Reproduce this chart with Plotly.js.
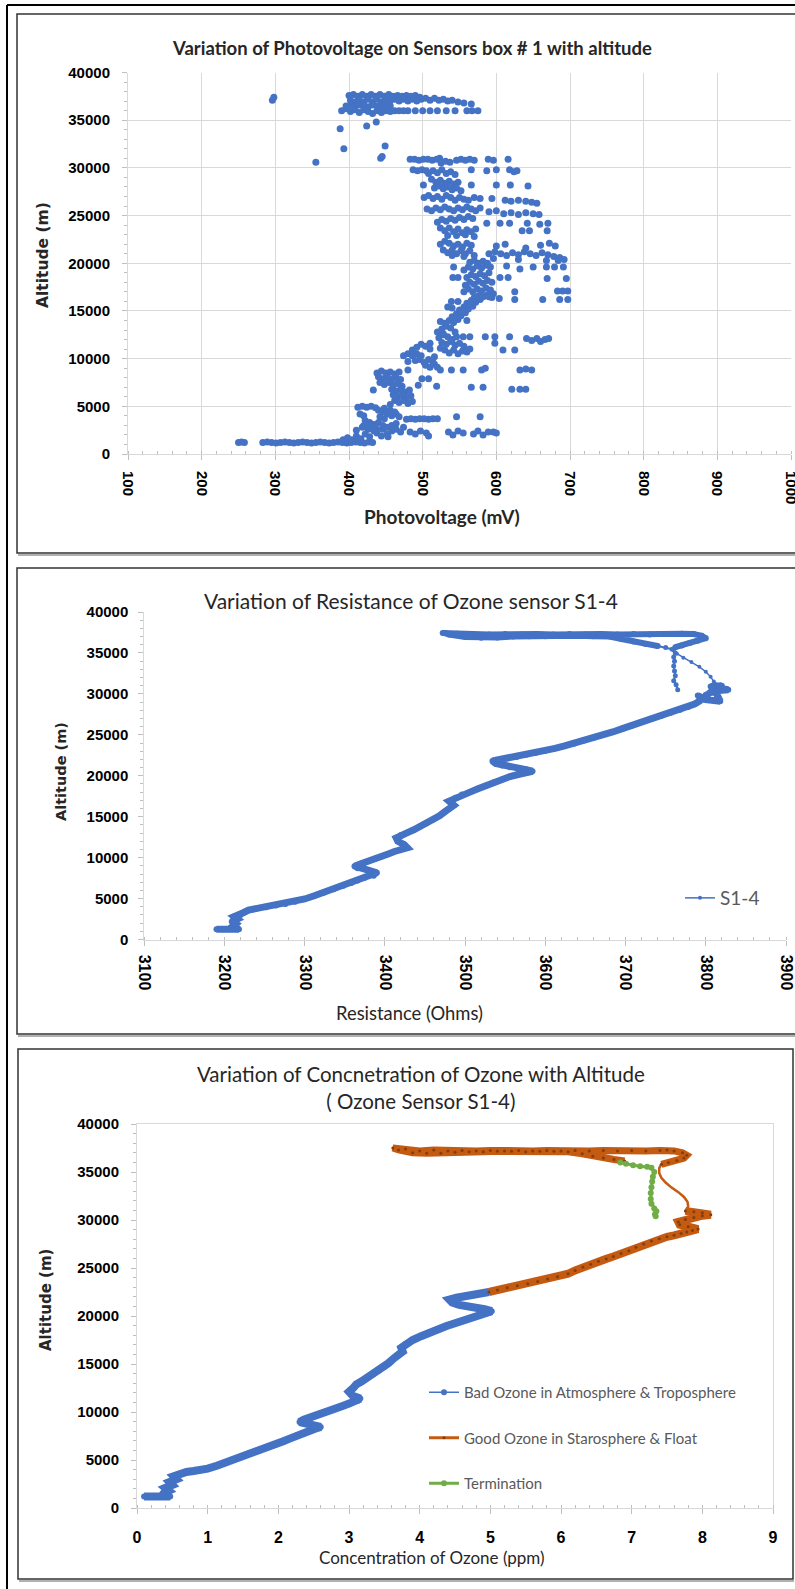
<!DOCTYPE html>
<html><head><meta charset="utf-8">
<script src="https://cdn.plot.ly/plotly-3.0.1.min.js"></script>
<style>html,body{margin:0;padding:0;background:#fff;}#chart{width:795px;height:1589px;}</style>
</head><body><div id="chart"></div>
<script>
// ---------- Panel 1: Photovoltage (mV) vs Altitude (m) ----------
const pvVoltage = [
 250,254,258,283,289,295,301,307,313,319,325,331,337,343,349,355,361,367,373,379,385,391,397,403,409,415,421,427,432,
 392,398,404,410,416,422,428,434,410,418,426,438,444,446,452,453,458,464,470,474,
 483,490,497,505,508,535,541,548,555,569,575,582,589,596,600,
 478,484,490,496,502,508,514,520,546,578,
 412,418,424,430,436,440,446,452,458,464,468,442,448,422,428,434,440,446,452,458,464,420,426,432,438,448,456,462,415,420,
 438,444,450,456,462,468,440,446,452,458,464,470,442,448,454,460,466,472,458,464,470,476,482,460,466,472,478,484,462,468,474,480,486,456,433,
 494,499,508,519,566,582,621,632,640,480,524,539,555,580,585,632,640,648,
 474,480,486,492,498,486,492,498,504,510,510,496,502,508,514,504,510,516,520,490,480,516,
 522,528,534,540,546,526,532,538,544,550,556,530,536,542,548,554,560,564,524,
 555,564,585,598,618,641,648,655,660,666,671,598,609,625,
 520,526,532,538,530,536,542,548,540,546,552,558,550,556,562,568,560,566,572,578,570,576,582,588,594,534,540,524,528,544,560,
 539,548,604,625,663,686,697,683,690,697,
 556,562,568,574,580,586,592,558,564,570,576,582,588,594,560,566,572,578,584,590,556,562,568,574,580,586,592,564,570,576,582,588,596,590,
 541,548,605,616,669,695,625,650,668,679,691,542,614,632,
 590,598,606,614,622,630,638,646,654,662,670,678,686,692,600,612,640,660,672,680,596,630,668,684,
 524,530,536,542,548,554,560,566,528,534,540,546,552,558,564,540,556,570,
 520,526,532,538,544,550,556,562,568,524,530,536,542,548,554,560,566,572,534,546,558,570,
 587,605,618,642,659,670,635,645,669,
 506,512,518,524,530,536,542,548,554,560,566,572,578,590,600,610,620,630,640,650,658,
 502,508,514,520,526,532,538,544,550,556,562,570,578,594,612,620,630,640,648,655,
 508,514,520,526,532,538,544,512,518,524,530,536,542,548,516,522,528,534,540,546,552,501,487,493,499,505,
 566,600,619,643,566,587,600,618,624,628,
 483,489,495,501,507,513,519,523,546,552,558,564,570,589,596,616,525,531,537,
 355,393,449,443,445,388,424,437,296,298,
 400,406,412,418,424,430,436,442,448,454,460,466,472,478,484,490,496,
 402,408,414,420,426,432,438,444,450,456,462,468,474,480,486,492,498,
 504,510,516,522,528,534,540,548,556,566,
 396,402,408,414,420,426,432,438,444,450,456,
 390,396,402,408,414,420,426,432,438,444,450,456,
 462,468,474,480,490,500,510,520,532,544,560,567,575
];
const pvAltitude = [
 1200,1250,1200,1200,1250,1200,1150,1200,1250,1200,1150,1200,1250,1200,1150,1200,1250,1200,1150,1200,1250,1200,1150,1200,1250,1200,1150,1250,1200,
 1500,1700,1500,1900,1600,2100,1800,2400,2500,2800,2600,2200,1900,2600,2100,1800,2400,2600,2300,2800,
 2300,2100,2400,2200,1900,2300,2000,2400,2200,2100,2400,2000,2300,2300,2200,
 3650,3700,3650,3700,3700,3650,3700,3700,3900,3900,
 4900,5000,4900,5000,4850,4600,4400,4200,4000,4200,3900,3900,3700,3500,3300,3100,3300,3000,2800,3000,3200,3000,2700,2900,2600,4800,4600,4400,4200,4000,
 8500,8700,8500,8600,8400,8600,8100,7900,8100,7800,8000,7800,7500,7300,7500,7200,7400,7100,6800,6600,6800,6500,6700,6200,6000,6200,5900,6100,5600,5400,5600,5300,5500,5200,6700,
 7200,7900,7900,7100,7000,7000,6800,6800,6800,8800,8800,8800,8800,8800,9000,8800,8900,8800,
 10300,10500,10300,10500,10300,10900,11200,11500,11300,11600,11000,9900,9600,9900,9600,9300,9100,9400,9100,9800,9700,10200,
 12200,12500,12300,12000,12300,11700,11500,11800,11400,11600,11300,10900,10600,10900,10500,10800,10700,11000,11100,
 12300,12300,12300,12300,12300,12100,11900,12100,11800,12000,12100,11600,10900,10900,
 12800,13100,13400,13200,13700,14000,13800,14100,14400,14700,14500,14800,15100,15400,15200,15500,15800,16100,15900,16200,16400,16600,16500,16700,16400,15400,15300,13900,12600,12800,14000,
 16000,16000,16300,16200,16200,16200,16200,17100,17100,17100,
 17000,17300,17000,17300,17100,17400,17200,17700,18000,17800,18100,17900,18200,18000,18500,18800,18600,18900,18700,19000,19300,19600,19400,19700,19500,19800,19600,20100,20300,20000,20200,20000,16800,16500,
 18500,18500,18500,18500,18400,18400,17000,19600,19600,19600,19600,19600,19700,19400,
 21000,21200,21000,20800,21100,20900,21200,21000,20800,21100,20900,20700,20600,20400,21800,22000,21600,21900,22100,21800,20500,20400,20300,20300,
 22000,22300,22100,21800,22000,21700,22100,21900,21400,21100,21400,21000,21300,21000,21300,20800,20700,20800,
 24300,24600,24400,24700,24500,24800,24600,24900,24700,23700,23400,23700,23300,23600,23200,23500,23300,23600,22900,22900,23000,22800,
 24200,24200,24200,24200,24100,24200,23400,23400,23400,
 25700,25500,25800,25600,25900,25700,25500,25800,25600,25900,25700,25500,25800,25400,25500,25200,25300,25100,25300,25200,25100,
 26900,27100,26800,27000,26700,27100,26900,26600,26900,26700,26600,26900,26800,26800,26600,26500,26600,26500,26400,26300,
 29400,29700,29500,29800,29400,29600,29300,28800,28500,28700,28400,28600,28300,28500,27900,28100,27800,28000,27700,27900,27600,28200,29800,29700,29800,29700,
 28200,28200,28200,28100,29800,29700,29800,29800,29600,29700,
 30900,30900,30800,30900,30900,30800,30900,31000,30800,30900,30800,30900,30800,30900,30800,30900,30500,30700,30600,
 30600,32000,32300,31000,31200,34100,34400,34800,37100,37400,
 37600,37700,37500,37700,37500,37700,37500,37700,37500,37700,37500,37600,37500,37600,37500,37600,37400,
 37100,36900,37200,36900,37200,36900,37200,36900,37200,37000,37200,37000,37200,37000,37200,37000,37200,
 37300,37100,37300,37100,37200,37000,37100,36900,36800,36700,
 36500,36600,36400,36600,36500,36400,36600,36500,36400,36600,36500,
 36000,36200,35900,36100,35800,36100,35900,35700,36000,35800,36000,35900,
 36000,36000,36000,36000,36000,36000,36000,36000,36000,36000,36000,36000,36000
];

// ---------- Panel 2: Resistance (Ohms) of sensor S1-4 vs Altitude ----------
const resAscOhms = [3190,3198,3206,3214,3218,3210,3214,3209,3216,3212,3220,3224,3230,3240,3252,3264,3276,3288,3300,3312,3324,3336,3348,3358,3366,3374,3386,3390,3378,3366,3362,3370,3380,3388,3396,3404,3412,3420,3428,3424,3416,3414,3420,3428,3436,3444,3452,3460,3468,3474,3480,3486,3480,3488,3496,3506,3516,3526,3536,3546,3556,3566,3576,3584,3576,3566,3556,3546,3538,3534,3542,3552,3564,3576,3588,3600,3612,3624,3636,3648,3660,3672,3684,3696,3708,3720,3732,3744,3756,3768,3778,3786,3792,3796,3800,3806,3816,3828,3816,3806,3820,3810,3818,3800,3790];
const resAscAlt  = [1250,1250,1250,1250,1250,1600,1900,2200,2500,2800,3000,3300,3600,3800,3950,4150,4350,4600,4950,5350,5750,6150,6550,6900,7200,7500,7800,8150,8500,8700,8950,9250,9550,9850,10150,10450,10750,11000,11200,11600,12000,12400,12750,13050,13400,13800,14200,14650,15100,15550,16000,16400,16900,17300,17700,18000,18400,18800,19200,19550,19900,20150,20350,20550,20750,20900,21050,21250,21500,21800,21950,22100,22300,22550,22800,23050,23350,23650,23950,24300,24650,25000,25350,25750,26150,26550,26950,27300,27700,28050,28400,28750,29100,29500,29900,30200,30400,30500,30700,30900,31000,30700,29100,29300,29800];
const resThinOhms = [3828,3818,3810,3806,3800,3792,3782,3772,3764,3760,3762];
const resThinAlt  = [30500,31000,31500,32100,32700,33300,33900,34400,34900,35300,35700];
const resFloatOhms = [3762,3770,3780,3790,3800,3795,3785,3770,3750,3730,3710,3690,3670,3650,3630,3610,3590,3570,3550,3530,3510,3490,3472,3480,3500,3520,3540,3560,3580,3600,3620,3640,3660,3680,3695,3710,3725,3740];
const resFloatAlt  = [35700,35900,36200,36500,36800,37100,37300,37350,37300,37250,37300,37250,37300,37250,37300,37250,37300,37250,37300,37250,37300,37350,37450,37250,36950,36850,36900,37000,37050,37050,37100,37100,37050,37000,36700,36400,36100,35850];
const resDescOhms = [3740,3750,3758,3762,3760,3761,3760,3761,3762,3760,3763,3765];
const resDescAlt  = [35850,35650,35450,35000,34500,34000,33400,32800,32200,31600,31100,30500];

// ---------- Panel 3: Ozone concentration (ppm) vs Altitude ----------
const badPpm = [0.10,0.20,0.30,0.40,0.47,0.36,0.45,0.40,0.50,0.46,0.56,0.52,0.60,0.63,0.70,0.80,0.90,1.00,1.13,1.25,1.36,1.48,1.60,1.72,1.84,1.96,2.07,2.17,2.26,2.34,2.42,2.52,2.60,2.50,2.40,2.30,2.36,2.46,2.56,2.66,2.78,2.90,3.01,3.12,3.16,3.05,3.00,3.06,3.10,3.18,3.26,3.34,3.42,3.50,3.56,3.62,3.70,3.76,3.74,3.80,3.90,4.02,4.14,4.26,4.38,4.50,4.62,4.74,4.86,4.98,5.02,4.92,4.80,4.68,4.56,4.46,4.42,4.52,4.64,4.76,4.88,4.98];
const badAlt = [1200,1200,1200,1200,1200,1500,1800,2100,2400,2700,3000,3300,3500,3650,3750,3850,3950,4100,4400,4700,5000,5350,5700,6000,6350,6650,6950,7250,7550,7800,8000,8250,8450,8650,8800,8950,9200,9500,9750,10000,10300,10600,10900,11150,11400,11700,12100,12500,12850,13200,13550,13900,14300,14700,15100,15500,15900,16300,16700,17100,17500,17900,18300,18650,18950,19250,19550,19800,20050,20300,20500,20700,20800,20950,21150,21400,21700,21900,22050,22200,22350,22500];
const goodAscPpm = [4.98,5.10,5.24,5.38,5.53,5.67,5.81,5.95,6.10,6.20,6.31,6.42,6.53,6.64,6.74,6.85,6.96,7.06,7.17,7.28,7.39,7.50,7.60,7.70,7.78,7.86,7.94,7.80,7.68,7.66,7.76,7.88,8.00,8.12,8.00,7.88,7.76];
const goodAscAlt = [22500,22700,22950,23150,23350,23600,23850,24100,24400,24750,25100,25400,25700,25950,26200,26500,26800,27150,27500,27800,28050,28250,28400,28600,28750,28900,29050,29300,29500,29800,30050,30250,30450,30550,30750,30850,30950];
const goodThinPpm = [7.76,7.80,7.79,7.74,7.66,7.56,7.48,7.42,7.39,7.39,7.42];
const goodThinAlt = [30950,31400,31900,32400,32900,33400,33900,34400,34900,35400,35800];
const goodFloatPpm = [7.42,7.52,7.64,7.74,7.78,7.72,7.60,7.50,7.40,7.20,7.00,6.80,6.60,6.40,6.20,6.00,5.80,5.60,5.40,5.20,5.00,4.80,4.60,4.40,4.20,4.00,3.80,3.62,3.70,3.90,4.10,4.30,4.50,4.70,4.90,5.10,5.30,5.50,5.70,5.90,6.10,6.30,6.45,6.60,6.75,6.90];
const goodFloatAlt = [35800,36000,36200,36450,36750,37000,37200,37300,37250,37200,37250,37200,37250,37200,37250,37200,37250,37200,37250,37200,37250,37200,37250,37200,37300,37200,37400,37500,37300,37000,36950,36950,37050,37100,37100,37150,37150,37100,37150,37150,37100,36900,36650,36450,36300,36150];
const termPpm = [6.84,6.92,7.02,7.12,7.22,7.28,7.32,7.30,7.29,7.28,7.27,7.27,7.28,7.32,7.35,7.33,7.34];
const termAlt = [36000,35850,35700,35600,35550,35450,35000,34500,34000,33400,32800,32200,31700,31200,30900,30600,30400];

// ---------- text ----------
const titles = {
  p1: "Variation of Photovoltage on Sensors box # 1 with altitude",
  p1x: "Photovoltage (mV)",
  p2: "Variation of Resistance of Ozone sensor S1-4",
  p2x: "Resistance (Ohms)",
  p3: "Variation of Concnetration of Ozone with Altitude<br>( Ozone Sensor S1-4)",
  p3x: "Concentration of Ozone (ppm)",
  y: "Altitude (m)"
};
const seriesNames = ["S1-4","Bad Ozone in Atmosphere & Troposphere","Good Ozone in Starosphere & Float","Termination"];

// ---------- layout helpers ----------
const W = 795, H = 1589;
const px = v => v / W;
const py = v => 1 - v / H;
const BLUE = '#4472C4', ORANGE = '#C55A11', GREEN = '#70AD47', AX = '#D9D9D9', TK = '#BFBFBF';
const tickFont = {family: 'Liberation Sans, Arial, sans-serif', size: 15, color: '#000', weight: 'bold'};

function xAxis(domain, range, dtick, minorD, grid, angle, standoff, fsize, anchor, mirror) {
  return {domain: domain, range: range, dtick: dtick, tick0: range[0], tickangle: angle,
    showgrid: grid, gridcolor: AX, gridwidth: 1, zeroline: false, showline: true, linecolor: AX, linewidth: 1,
    mirror: mirror, ticks: 'outside', ticklen: 5, tickcolor: TK, ticklabeloverflow: 'allow', tickformat: 'd',
    minor: {dtick: minorD, ticks: 'inside', ticklen: 3, tickcolor: TK, showgrid: false},
    tickfont: Object.assign({}, tickFont, {size: fsize}), ticklabelstandoff: standoff, anchor: anchor, fixedrange: true};
}
function yAxis(domain, grid, standoff, anchor, mirror) {
  return {domain: domain, range: [0, 40000], dtick: 5000, tick0: 0, tickformat: 'd',
    showgrid: grid, gridcolor: AX, gridwidth: 1, zeroline: false, showline: true, linecolor: AX, linewidth: 1,
    mirror: mirror, ticks: 'outside', ticklen: 5, tickcolor: TK,
    minor: {dtick: 1000, ticks: 'outside', ticklen: 3, tickcolor: TK, showgrid: false},
    tickfont: tickFont, ticklabelstandoff: standoff, anchor: anchor, fixedrange: true};
}

const traces = [
  {type: 'scatter', mode: 'markers', x: pvVoltage, y: pvAltitude, xaxis: 'x', yaxis: 'y',
   marker: {color: BLUE, size: 7}, showlegend: false, hoverinfo: 'skip'},
  // panel 2
  {type: 'scatter', mode: 'lines', x: resAscOhms, y: resAscAlt, xaxis: 'x2', yaxis: 'y2', line: {color: BLUE, width: 7}, showlegend: false},
  {type: 'scatter', mode: 'lines', x: resFloatOhms, y: resFloatAlt, xaxis: 'x2', yaxis: 'y2', line: {color: BLUE, width: 6}, showlegend: false},
  {type: 'scatter', mode: 'lines+markers', x: resAscOhms, y: resAscAlt, xaxis: 'x2', yaxis: 'y2', line: {color: BLUE, width: 1.5}, marker: {color: BLUE, size: 6}, showlegend: false},
  {type: 'scatter', mode: 'lines+markers', x: resFloatOhms, y: resFloatAlt, xaxis: 'x2', yaxis: 'y2', line: {color: BLUE, width: 1.5}, marker: {color: BLUE, size: 6}, showlegend: false},
  {type: 'scatter', mode: 'lines+markers', x: resDescOhms, y: resDescAlt, xaxis: 'x2', yaxis: 'y2', line: {color: BLUE, width: 2}, marker: {color: BLUE, size: 5}, showlegend: false},
  {type: 'scatter', mode: 'lines+markers', x: resThinOhms, y: resThinAlt, xaxis: 'x2', yaxis: 'y2', line: {color: BLUE, width: 1.5}, marker: {color: BLUE, size: 4}, name: seriesNames[0], showlegend: true, legend: 'legend'},
  // panel 3
  {type: 'scatter', mode: 'lines', x: badPpm, y: badAlt, xaxis: 'x3', yaxis: 'y3', line: {color: BLUE, width: 8}, showlegend: false},
  {type: 'scatter', mode: 'lines', x: goodAscPpm, y: goodAscAlt, xaxis: 'x3', yaxis: 'y3', line: {color: ORANGE, width: 8}, showlegend: false},
  {type: 'scatter', mode: 'lines', x: goodFloatPpm, y: goodFloatAlt, xaxis: 'x3', yaxis: 'y3', line: {color: ORANGE, width: 7}, showlegend: false},
  {type: 'scatter', mode: 'lines', x: goodThinPpm, y: goodThinAlt, xaxis: 'x3', yaxis: 'y3', line: {color: ORANGE, width: 2.5}, showlegend: false},
  {type: 'scatter', mode: 'lines+markers', x: badPpm, y: badAlt, xaxis: 'x3', yaxis: 'y3', line: {color: BLUE, width: 1.5}, marker: {color: BLUE, size: 6},
   name: seriesNames[1], legend: 'legend2', legendgroup: 'g1'},
  {type: 'scatter', mode: 'lines+markers', x: goodAscPpm, y: goodAscAlt, xaxis: 'x3', yaxis: 'y3', line: {color: ORANGE, width: 3}, marker: {color: '#7F3F10', size: 3},
   name: seriesNames[2], legend: 'legend2', legendgroup: 'g2'},
  {type: 'scatter', mode: 'markers', x: goodFloatPpm, y: goodFloatAlt, xaxis: 'x3', yaxis: 'y3', marker: {color: '#7F3F10', size: 3}, showlegend: false, legendgroup: 'g2'},
  {type: 'scatter', mode: 'lines+markers', x: termPpm, y: termAlt, xaxis: 'x3', yaxis: 'y3', line: {color: GREEN, width: 3}, marker: {color: GREEN, size: 6},
   name: seriesNames[3], legend: 'legend2', legendgroup: 'g3'}
];

function ann(text, x, y, size, weight, color, angle, family) {
  return {text: text, x: px(x), y: py(y), xref: 'paper', yref: 'paper', showarrow: false,
    xanchor: 'center', yanchor: 'middle', textangle: angle || 0,
    font: {family: family || 'Lato, sans-serif', size: size, color: color || '#262626', weight: weight}};
}

const layout = {
  width: W, height: H, margin: {l: 0, r: 0, t: 0, b: 0},
  paper_bgcolor: '#fff', plot_bgcolor: 'rgba(0,0,0,0)',
  xaxis: xAxis([px(128), px(791)], [100, 1000], 100, 20, true, 90, 8, 15, 'y', false),
  yaxis: yAxis([py(454), py(72.5)], true, 9, 'x', false),
  xaxis2: xAxis([px(144.3), px(786)], [3100, 3900], 100, 20, false, 90, 6, 16, 'y2', false),
  yaxis2: yAxis([py(939.5), py(612)], false, 7, 'x2', false),
  xaxis3: xAxis([px(137), px(773)], [0, 9], 1, 0.2, false, 0, 10, 16, 'y3', true),
  yaxis3: yAxis([py(1508), py(1124)], false, 9, 'x3', true),
  legend: {x: px(680), y: py(898), xanchor: 'left', yanchor: 'middle', bgcolor: 'rgba(0,0,0,0)',
    font: {family: 'Lato, sans-serif', size: 19, color: '#595959'}},
  legend2: {x: px(424), y: py(1376), xanchor: 'left', yanchor: 'top', bgcolor: 'rgba(0,0,0,0)',
    traceorder: 'grouped', tracegroupgap: 23,
    font: {family: 'Lato, sans-serif', size: 15, color: '#595959'}},
  annotations: [
    ann(titles.p1, 412, 48, 18.5, 'bold'),
    ann(titles.p1x, 442, 517, 19, 'bold'),
    ann(titles.y, 43, 255, 15.5, 'bold', '#262626', -90, 'DejaVu Sans, sans-serif'),
    ann(titles.p2, 411, 600, 21, 'normal'),
    ann(titles.p2x, 409, 1013, 18.4, 'normal'),
    ann(titles.y, 61, 772, 14.5, 'bold', '#262626', -90, 'DejaVu Sans, sans-serif'),
    ann(titles.p3, 421, 1087, 20.5, 'normal'),
    ann(titles.p3x, 432, 1557, 17, 'normal'),
    ann(titles.y, 46, 1300, 15, 'bold', '#262626', -90, 'DejaVu Sans, sans-serif')
  ],
  shapes: [
    {type: 'line', xref: 'paper', yref: 'paper', x0: px(7), x1: px(7), y0: py(5), y1: 0, line: {color: '#000', width: 2}},
    {type: 'line', xref: 'paper', yref: 'paper', x0: px(7), x1: 1, y0: py(5), y1: py(5), line: {color: '#000', width: 2}},
    {type: 'rect', xref: 'paper', yref: 'paper', x0: px(17), x1: px(805), y0: py(553), y1: py(14), line: {color: '#333', width: 1.5}, fillcolor: 'rgba(0,0,0,0)'},
    {type: 'line', xref: 'paper', yref: 'paper', x0: px(18), x1: 1, y0: py(555), y1: py(555), line: {color: '#B0B0B0', width: 2}},
    {type: 'rect', xref: 'paper', yref: 'paper', x0: px(17), x1: px(805), y0: py(1034), y1: py(568), line: {color: '#333', width: 1.5}, fillcolor: 'rgba(0,0,0,0)'},
    {type: 'line', xref: 'paper', yref: 'paper', x0: px(18), x1: 1, y0: py(1036), y1: py(1036), line: {color: '#B0B0B0', width: 2}},
    {type: 'rect', xref: 'paper', yref: 'paper', x0: px(18), x1: px(793), y0: py(1579), y1: py(1049), line: {color: '#333', width: 1.5}, fillcolor: 'rgba(0,0,0,0)'},
    {type: 'line', xref: 'paper', yref: 'paper', x0: px(19), x1: px(794), y0: py(1581), y1: py(1581), line: {color: '#B0B0B0', width: 2}}
  ]
};

Plotly.newPlot('chart', traces, layout, {staticPlot: true, displayModeBar: false});
</script>
</body></html>
